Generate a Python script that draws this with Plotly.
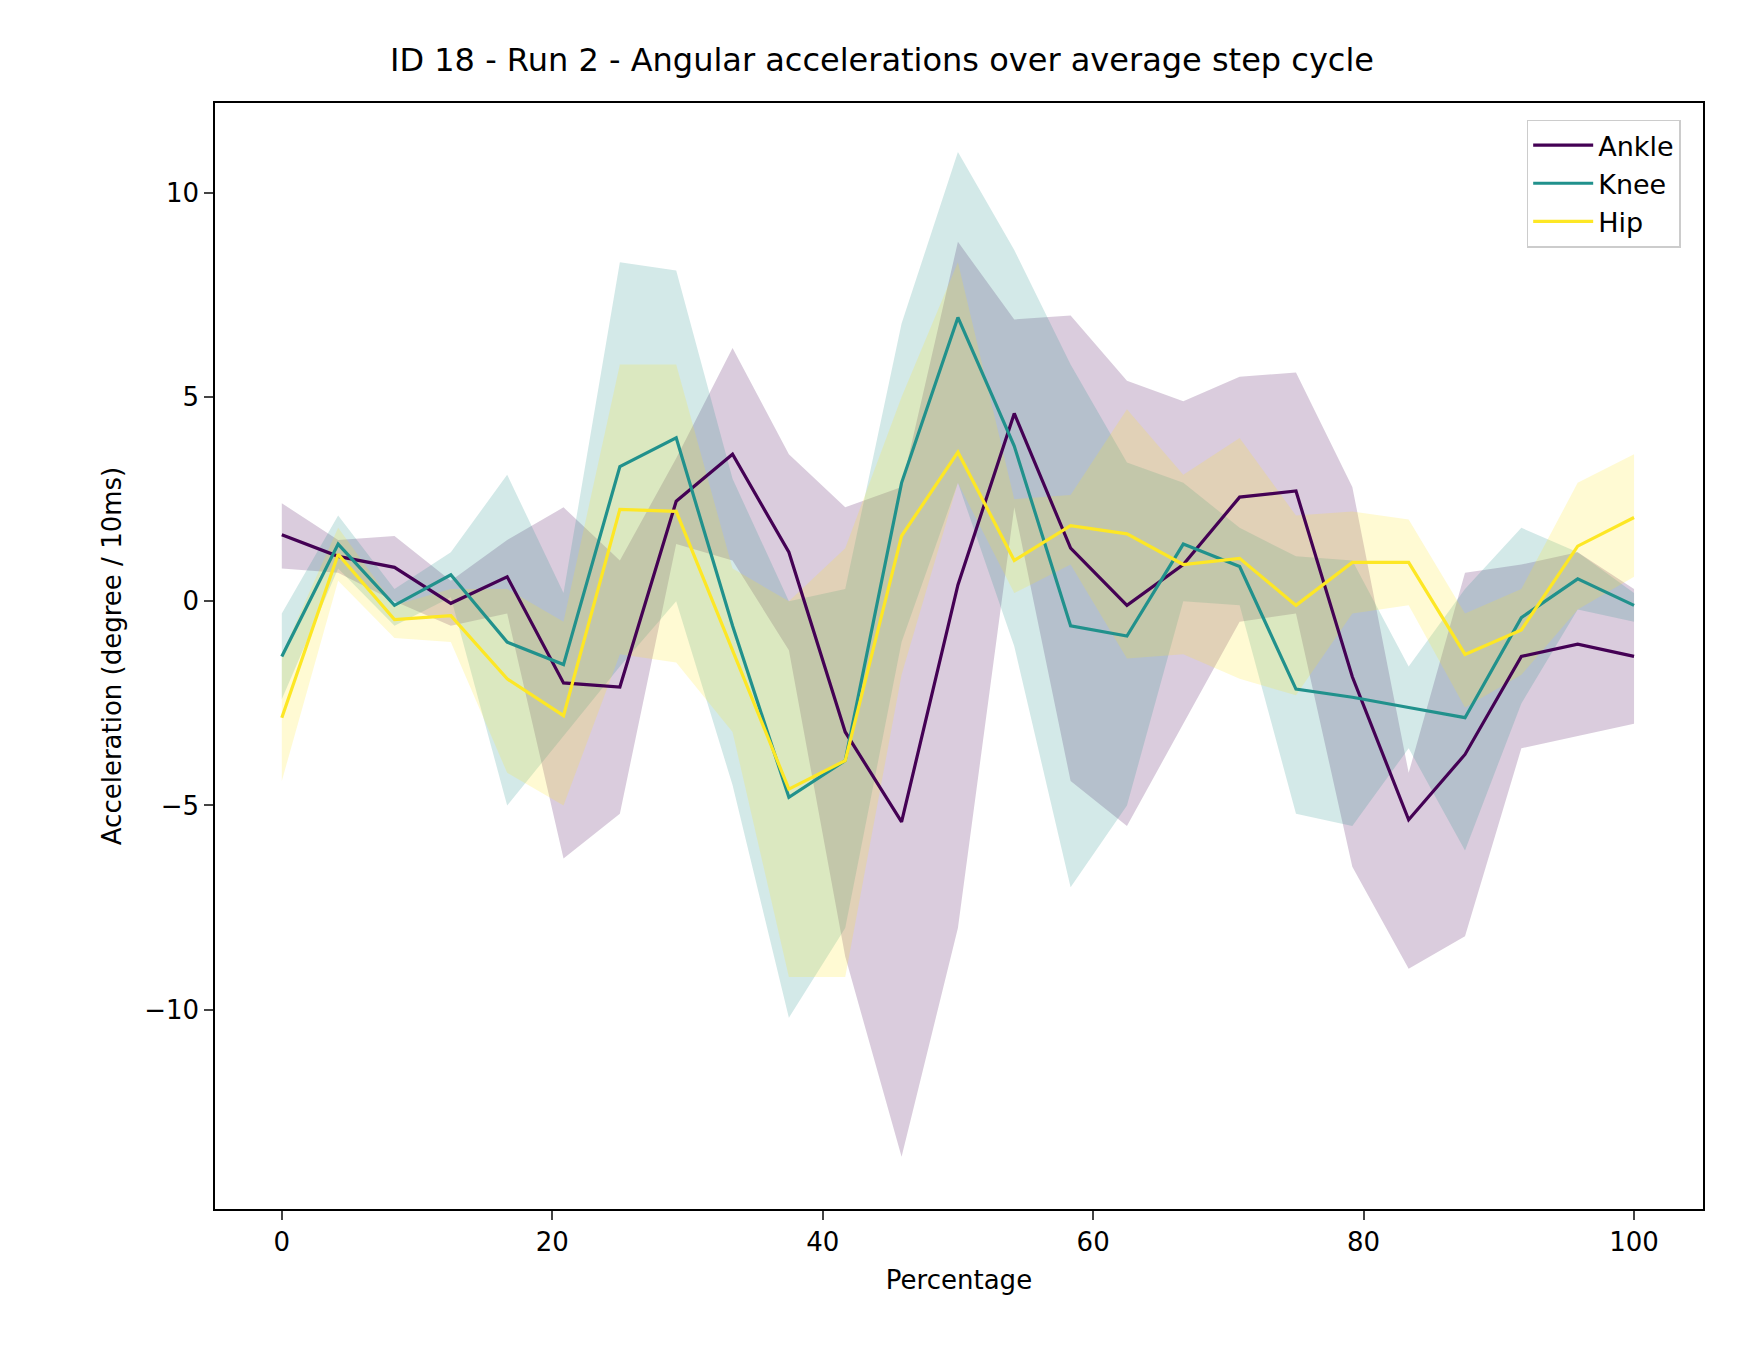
import plotly.graph_objects as go

x = [i * 100 / 24 for i in range(25)]
ankle = [1.63,1.1,0.83,-0.05,0.6,-2.0,-2.1,2.45,3.6,1.2,-3.2,-5.4,0.4,4.6,1.3,-0.1,0.9,2.55,2.7,-1.85,-5.35,-3.75,-1.35,-1.05,-1.35]
ankle_hi = [2.4,1.5,1.6,0.5,1.5,2.3,1.0,3.5,6.2,3.6,2.3,2.8,8.8,6.9,7.0,5.4,4.9,5.5,5.6,2.8,-4.2,0.7,0.9,1.2,0.3]
ankle_lo = [0.8,0.7,0.0,-0.6,-0.3,-6.3,-5.2,1.4,1.0,-1.2,-8.7,-13.6,-8.0,2.3,-4.4,-5.5,-3.0,-0.5,-0.3,-6.5,-9.0,-8.2,-3.6,-3.3,-3.0]
knee = [-1.35,1.4,-0.1,0.65,-1.0,-1.55,3.3,4.0,-0.6,-4.8,-3.9,2.9,6.95,3.8,-0.6,-0.85,1.4,0.85,-2.15,-2.35,-2.6,-2.85,-0.4,0.55,-0.1]
knee_hi = [-0.3,2.1,0.3,1.2,3.1,0.2,8.3,8.1,3.0,0.0,0.3,6.8,11.0,8.6,5.8,3.4,2.9,1.8,1.1,1.0,-1.6,0.3,1.8,1.2,0.2]
knee_lo = [-2.4,0.8,-0.6,0.1,-5.0,-3.3,-1.6,0.0,-4.5,-10.2,-8.0,-1.0,2.9,-1.1,-7.0,-5.0,0.0,-0.1,-5.2,-5.5,-3.6,-6.1,-2.5,-0.2,-0.5]
hip = [-2.85,1.15,-0.45,-0.35,-1.9,-2.8,2.25,2.2,-1.2,-4.6,-3.9,1.6,3.65,1.0,1.85,1.65,0.9,1.05,-0.1,0.95,0.95,-1.3,-0.7,1.35,2.05]
hip_hi = [-1.3,1.8,-0.1,0.3,0.3,-0.5,5.8,5.8,0.8,0.0,1.3,5.0,8.3,2.5,2.6,4.7,3.1,4.0,2.1,2.2,2.0,-0.3,0.3,2.9,3.6]
hip_lo = [-4.4,0.5,-0.9,-1.0,-4.2,-5.0,-1.3,-1.5,-3.2,-9.2,-9.2,-1.8,2.9,0.2,0.9,-1.4,-1.3,-1.9,-2.3,-0.3,-0.1,-2.6,-1.8,-0.2,0.6]

series = [("Ankle", ankle, ankle_hi, ankle_lo, "#440154", "rgba(68,1,84,0.2)"),
          ("Knee", knee, knee_hi, knee_lo, "#21918c", "rgba(33,145,140,0.2)"),
          ("Hip", hip, hip_hi, hip_lo, "#fde725", "rgba(253,231,37,0.2)")]

fig = go.Figure()
for name, m, hi, lo, c, fc in series:
    fig.add_trace(go.Scatter(x=x, y=hi, mode="lines", line=dict(width=0), showlegend=False, hoverinfo="skip"))
    fig.add_trace(go.Scatter(x=x, y=lo, mode="lines", line=dict(width=0), fill="tonexty", fillcolor=fc, showlegend=False, hoverinfo="skip"))
for name, m, hi, lo, c, fc in series:
    fig.add_trace(go.Scatter(x=x, y=m, mode="lines", name=name, line=dict(color=c, width=3.2)))

ax = dict(showline=True, linecolor="black", linewidth=1.5, mirror=True, ticks="outside", ticklen=9,
          tickwidth=1.5, showgrid=False, zeroline=False, tickfont=dict(size=26, color="black"))
fig.update_layout(
    width=1748, height=1361, plot_bgcolor="white", paper_bgcolor="white",
    font=dict(family="DejaVu Sans", color="black"),
    margin=dict(l=207, r=53, t=95, b=160),
    title=dict(text="ID 18 - Run 2 - Angular accelerations over average step cycle", x=0.5, xanchor="center",
               y=1 - 52/1361, yanchor="middle", font=dict(size=32)),
    xaxis=dict(ax, range=[-4.94, 105.1], tickvals=[0,20,40,60,80,100],
               title=dict(text="Percentage", font=dict(size=26))),
    yaxis=dict(ax, range=[-14.88, 12.2], tickvals=[-10,-5,0,5,10], ticktext=["−10","−5","0","5","10"],
               title=dict(text="Acceleration (degree / 10ms)", font=dict(size=26))),
    legend=dict(x=0.985, y=0.985, xanchor="right", yanchor="top", bgcolor="white", bordercolor="#cccccc",
                borderwidth=1.5, font=dict(size=27), traceorder="normal", itemwidth=60),
)
fig.write_html("out.html")
